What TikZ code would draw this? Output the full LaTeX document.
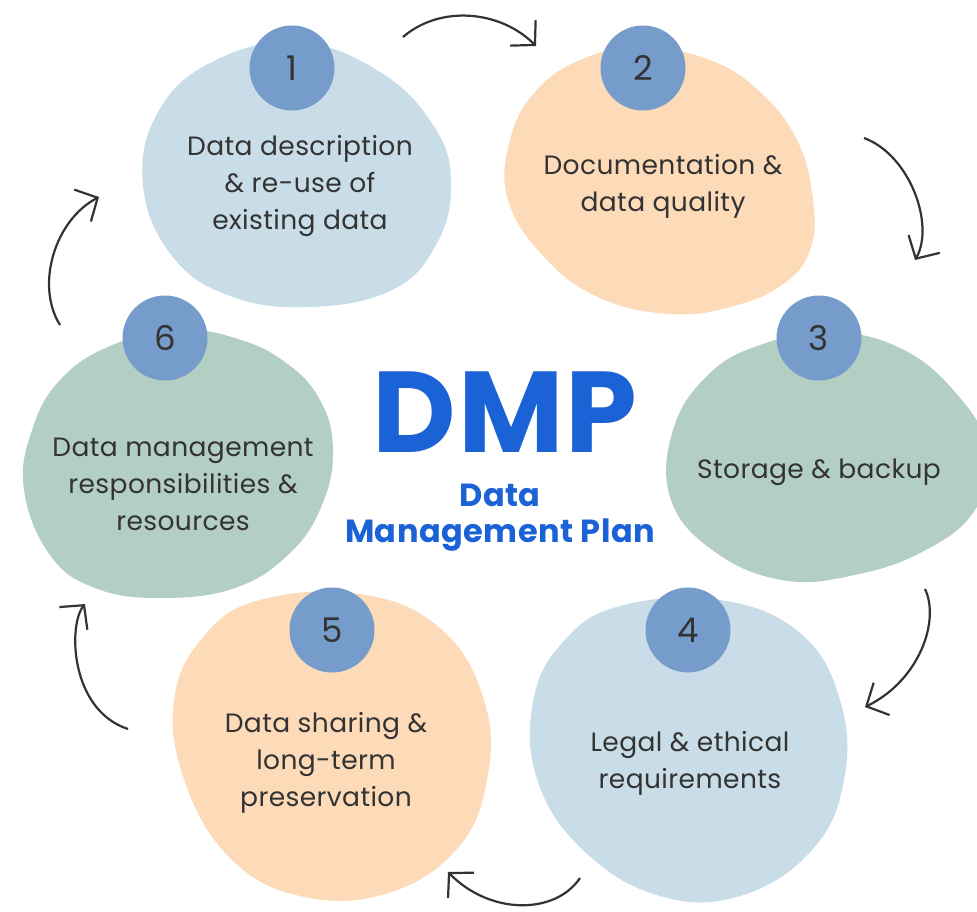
\documentclass[tikz,border=0pt]{standalone}
\definecolor{blobblue}{RGB}{201, 221, 232}
\definecolor{blobpeach}{RGB}{253, 219, 185}
\definecolor{blobgreen}{RGB}{179, 207, 195}
\definecolor{stepblue}{RGB}{117, 156, 203}
\definecolor{inkgray}{RGB}{51, 51, 51}
\definecolor{dmpblue}{RGB}{26, 98, 214}
\usepackage{fontspec}
\setmainfont{Poppins}[LetterSpace=1.5]
\usepackage{tikz}
\usetikzlibrary{arrows.meta, positioning, calc}

\begin{document}
\begin{tikzpicture}[x=1pt, y=-1pt,
  every node/.style={font=\fontsize{26.5}{37}\selectfont, text=inkgray},
  stepnum/.style={circle, fill=stepblue, minimum size=85pt, inner sep=0pt, font=\fontsize{34}{34}\selectfont},
  steptext/.style={align=center},
  cycarrow/.style={line width=2.2pt, inkgray, -{Straight Barb[length=17pt, width=36pt]}}]
\useasboundingbox (0,0) rectangle (977,911);
% Blobs
\fill[blobblue] plot[smooth cycle, tension=0.7] coordinates {(297,42) (380,72) (435,128) (451,185) (436,245) (392,290) (310,307) (230,296) (172,256) (143,185) (158,112) (212,62)};
\fill[blobpeach] plot[smooth cycle, tension=0.7] coordinates {(640,47) (710,60) (760,92) (797,140) (813,200) (810,250) (782,285) (730,307) (670,314) (600,298) (545,258) (508,200) (510,140) (535,92) (580,60)};
\fill[blobgreen] plot[smooth cycle, tension=0.7] coordinates {(760,345) (830,332) (900,348) (955,392) (988,450) (975,510) (922,552) (850,576) (782,580) (715,552) (671,500) (673,430) (708,375)};
\fill[blobblue] plot[smooth cycle, tension=0.7] coordinates {(620,606) (720,600) (800,633) (840,700) (844,780) (812,850) (740,896) (660,896) (585,852) (538,782) (533,702) (563,642)};
\fill[blobpeach] plot[smooth cycle, tension=0.7] coordinates {(260,600) (360,594) (440,628) (484,700) (487,780) (456,850) (385,894) (300,896) (230,858) (185,782) (174,700) (204,636)};
\fill[blobgreen] plot[smooth cycle, tension=0.7] coordinates {(177,330) (235,338) (285,362) (320,400) (333,450) (322,505) (290,553) (235,588) (160,598) (95,588) (50,555) (24,490) (32,430) (60,380) (110,346)};
% Step numbers
\node[stepnum] (n1) at (292,68) {1};
\node[stepnum] (n2) at (643,68) {2};
\node[stepnum] (n3) at (819,338) {3};
\node[stepnum] (n4) at (688,630) {4};
\node[stepnum] (n5) at (332,630) {5};
\node[stepnum] (n6) at (165,338) {6};
% Step texts
\node[steptext] (t1) at (300,186) {Data description\\\& re-use of\\existing data};
\node[steptext] (t2) at (663,186) {Documentation \&\\data quality};
\node[steptext] (t3) at (819,472) {Storage \& backup};
\node[steptext] (t4) at (690,763) {Legal \& ethical\\requirements};
\node[steptext] (t5) at (326,763) {Data sharing \&\\long-term\\preservation};
\node[steptext] (t6) at (183,484) {Data management\\responsibilities \&\\resources};
% Centre
\node[text=dmpblue, inner sep=0pt, text height=82pt, text depth=0pt, font=\fontsize{115}{115}\selectfont\bfseries] (dmp) at (505,411) {DMP};
\node[text=dmpblue, inner sep=0pt, font=\fontsize{32}{36}\selectfont\bfseries, align=center] (plan) at (500,518) {Data\\Management Plan};
% Cycle arrows
\coordinate (a1s) at (403,37);  \coordinate (a1e) at (536,46);
\coordinate (a2s) at (864,138); \coordinate (a2e) at (915,260);
\coordinate (a3s) at (925,589); \coordinate (a3e) at (865,707);
\coordinate (a4s) at (580,878); \coordinate (a4e) at (448,872);
\coordinate (a5s) at (128,729); \coordinate (a5e) at (85,604);
\coordinate (a6s) at (60,325);  \coordinate (a6e) at (99,197);
\draw[cycarrow] (a1s) .. controls (440,5) and (500,10) .. (a1e);
\draw[cycarrow] (a2s) .. controls (910,155) and (935,225) .. (a2e);
\draw[cycarrow] (a3s) .. controls (940,620) and (920,680) .. (a3e);
\draw[cycarrow] (a4s) .. controls (555,915) and (490,915) .. (a4e);
\draw[cycarrow] (a5s) .. controls (70,710) and (68,625) .. (a5e);
\draw[cycarrow] (a6s) .. controls (35,285) and (55,220) .. (a6e);
\end{tikzpicture}
\end{document}
